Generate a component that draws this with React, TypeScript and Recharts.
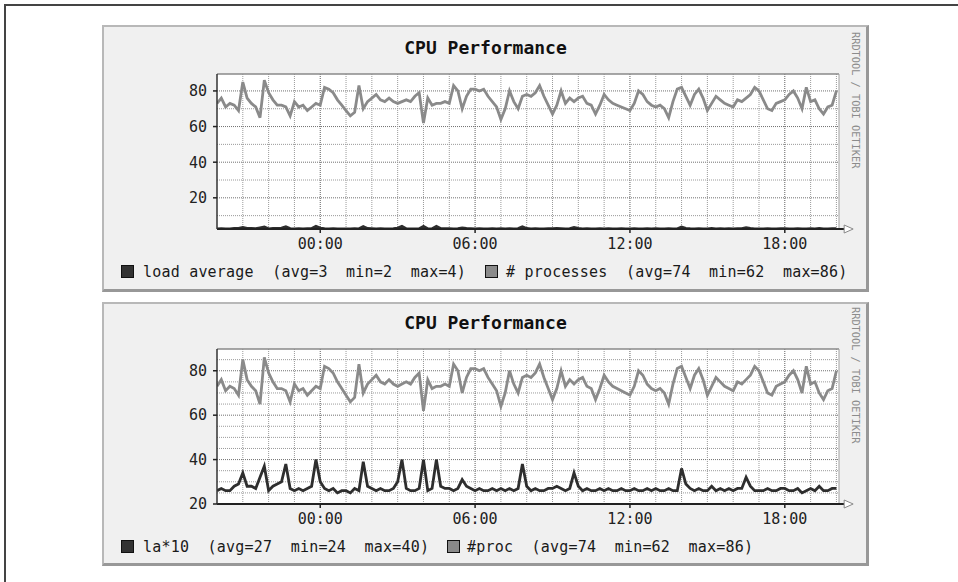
import React from 'react';
import { LineChart, Line, XAxis, YAxis, CartesianGrid, ReferenceLine, ReferenceDot } from 'recharts';

// ---- data -------------------------------------------------------------
const START_HOUR = -4; // 20:00 of the previous day
const STEP_HOURS = 1 / 6; // 10-minute samples

const hourTicks = [0, 6, 12, 18];
const hourTickLabels = ['00:00', '06:00', '12:00', '18:00'];
const minorHours = [-3, -2, -1, 1, 2, 3, 4, 5, 7, 8, 9, 10, 11, 13, 14, 15, 16, 17, 19, 20];

// number of processes (same data in both graphs)
const processes = [
  73, 76, 71, 73, 72, 69,
  85, 76, 73, 71, 65, 86,
  79, 75, 72, 72, 71, 66,
  74, 71, 72, 69, 71, 73,
  72, 82, 81, 79, 75, 72,
  69, 66, 68, 83, 70, 74,
  76, 78, 75, 74, 76, 74,
  73, 74, 75, 74, 77, 79,
  62, 76, 72, 73, 73, 74,
  73, 83, 80, 70, 77, 81,
  81, 80, 81, 77, 74, 71,
  64, 70, 80, 74, 70, 77,
  78, 77, 79, 83, 77, 72,
  67, 72, 80, 73, 76, 74,
  76, 77, 73, 72, 67, 72,
  78, 75, 73, 72, 71, 70,
  69, 73, 80, 78, 74, 72,
  71, 72, 70, 65, 74, 81,
  82, 77, 72, 78, 81, 76,
  69, 73, 77, 75, 73, 72,
  71, 75, 74, 76, 78, 82,
  80, 75, 70, 69, 73, 74,
  75, 78, 80, 76, 70, 82,
  74, 75, 70, 67, 71, 72,
  80,
];

// load average x 10
const loadX10 = [
  26, 27, 26, 26, 28, 29,
  34, 28, 28, 27, 32, 37,
  26, 28, 29, 30, 38, 27,
  26, 27, 26, 27, 28, 40,
  30, 27, 26, 27, 25, 26,
  26, 25, 27, 26, 39, 28,
  27, 26, 27, 26, 26, 27,
  30, 40, 27, 26, 26, 27,
  40, 26, 27, 40, 28, 27,
  27, 26, 27, 31, 28, 27,
  26, 27, 26, 26, 27, 26,
  27, 26, 27, 26, 27, 38,
  28, 26, 27, 26, 26, 27,
  27, 28, 27, 26, 27, 34,
  28, 26, 27, 26, 26, 27,
  26, 27, 26, 26, 27, 26,
  26, 27, 26, 26, 27, 26,
  27, 26, 26, 27, 26, 26,
  36, 29, 27, 26, 27, 26,
  26, 28, 26, 27, 26, 27,
  26, 27, 27, 32, 28, 26,
  26, 26, 27, 26, 26, 27,
  27, 26, 26, 27, 25, 26,
  27, 26, 28, 26, 26, 27,
  27,
];

const topYTicks = [20, 40, 60, 80];
const topYMinor = [10, 30, 50, 70];
const bottomYTicks = [20, 40, 60, 80];
const bottomYMinor = [25, 30, 35, 45, 50, 55, 65, 70, 75, 85];

const chartTitle = 'CPU Performance';
const credit = 'RRDTOOL / TOBI OETIKER';

const topLegend = [
  { label: 'load average  (avg=3  min=2  max=4)', color: '#333333' },
  { label: '# processes  (avg=74  min=62  max=86)', color: '#8a8a8a' },
];
const bottomLegend = [
  { label: 'la*10  (avg=27  min=24  max=40)', color: '#333333' },
  { label: '#proc  (avg=74  min=62  max=86)', color: '#8a8a8a' },
];

const rows = processes.map((p, i) => ({
  t: START_HOUR + i * STEP_HOURS,
  proc: p,
  la10: loadX10[i],
  la: loadX10[i] / 10,
}));

// ---- styling ---------------------------------------------------------
const MONO = '"DejaVu Sans Mono", "Liberation Mono", monospace';
const X_DOMAIN: [number, number] = [-4, 20.1];
const PANEL_LEFT = 102;
const PANEL_WIDTH = 767;

const Arrow = (props: any) => {
  const { cx, cy } = props;
  if (cx == null || cy == null) return null;
  return (
    <g>
      <line x1={cx - 8} y1={cy} x2={cx} y2={cy} stroke="#222" strokeWidth={2} />
      <polygon points={`${cx},${cy - 4} ${cx + 9},${cy} ${cx},${cy + 4}`} fill="#fff" stroke="#888" strokeWidth={1} />
    </g>
  );
};

type PanelProps = {
  top: number;
  height: number;
  plotTop: number;
  plotHeight: number;
  titleY: number;
  legendY: number;
  creditY: number;
  yDomain: [number, number];
  yTicks: number[];
  yMinor: number[];
  series: { key: string; color: string }[];
  legend: { label: string; color: string }[];
  legendX: number[];
};

function Panel(p: PanelProps) {
  const xAxisHeight = p.height - p.plotTop - p.plotHeight;
  return (
    <>
      <div
        style={{
          position: 'absolute',
          left: PANEL_LEFT,
          top: p.top,
          width: PANEL_WIDTH,
          height: p.height,
          boxSizing: 'border-box',
          background: '#f0f0f0',
          borderTop: '2px solid #b8b8b8',
          borderLeft: '2px solid #b8b8b8',
          borderRight: '3px solid #989898',
          borderBottom: '3px solid #989898',
        }}
      />
      <div style={{ position: 'absolute', left: PANEL_LEFT, top: p.top }}>
        <LineChart
          width={PANEL_WIDTH}
          height={p.height}
          data={rows}
          margin={{ top: p.plotTop, right: 30, bottom: 0, left: 0 }}
        >
          <CartesianGrid fill="#ffffff" stroke="none" horizontal={false} vertical={false} />
          <XAxis
            type="number"
            dataKey="t"
            domain={X_DOMAIN}
            allowDataOverflow
            ticks={hourTicks}
            interval={0}
            tickFormatter={(v: number) => hourTickLabels[hourTicks.indexOf(v)] ?? ''}
            height={xAxisHeight}
            tickSize={4}
            tickMargin={5}
            axisLine={{ stroke: '#222', strokeWidth: 2 }}
            tickLine={{ stroke: '#222', strokeWidth: 1.5 }}
            tick={{ fill: '#222', fontSize: 15, fontFamily: MONO }}
          />
          <YAxis
            type="number"
            domain={p.yDomain}
            allowDataOverflow
            ticks={p.yTicks}
            interval={0}
            width={115}
            tickSize={4}
            tickMargin={6}
            axisLine={{ stroke: '#333', strokeWidth: 1.5 }}
            tickLine={{ stroke: '#222', strokeWidth: 1.5 }}
            tick={{ fill: '#222', fontSize: 15, fontFamily: MONO }}
          />
          {p.yMinor.map((v) => (
            <ReferenceLine key={'ym' + v} y={v} stroke="#9a9a9a" strokeDasharray="1 1" />
          ))}
          {p.yTicks.map((v) => (
            <ReferenceLine key={'yM' + v} y={v} stroke="#707070" strokeDasharray="1 1" />
          ))}
          {minorHours.map((h) => (
            <ReferenceLine key={'xm' + h} x={h} stroke="#9a9a9a" strokeDasharray="1 1" />
          ))}
          {hourTicks.map((h) => (
            <ReferenceLine key={'xM' + h} x={h} stroke="#606060" strokeDasharray="1 1" />
          ))}
          <ReferenceLine y={p.yDomain[1]} stroke="#8a8a8a" strokeWidth={1.5} />
          <ReferenceLine x={X_DOMAIN[1]} stroke="#a0a0a0" />
          {p.series.map((s) => (
            <Line
              key={s.key}
              type="linear"
              dataKey={s.key}
              stroke={s.color}
              strokeWidth={2.8}
              dot={false}
              activeDot={false}
              isAnimationActive={false}
            />
          ))}
          <ReferenceDot x={20.3} y={p.yDomain[0]} ifOverflow="visible" shape={Arrow} />
        </LineChart>
      </div>
      <div
        style={{
          position: 'absolute',
          left: PANEL_LEFT,
          width: PANEL_WIDTH,
          top: p.top + p.titleY - 11,
          height: 22,
          lineHeight: '22px',
          textAlign: 'center',
          fontFamily: MONO,
          fontWeight: 'bold',
          fontSize: 18,
          color: '#111',
        }}
      >
        {chartTitle}
      </div>
      <div
        style={{
          position: 'absolute',
          left: PANEL_LEFT + 747,
          top: p.top + p.creditY,
          writingMode: 'vertical-rl',
          fontFamily: MONO,
          fontSize: 10.3,
          color: '#8c8c8c',
          whiteSpace: 'pre',
          lineHeight: '14px',
        }}
      >
        {credit}
      </div>
      {p.legend.map((item, i) => (
        <React.Fragment key={item.label}>
          <div
            style={{
              position: 'absolute',
              left: PANEL_LEFT + p.legendX[i * 2],
              top: p.top + p.legendY - 7,
              width: 13,
              height: 13,
              boxSizing: 'border-box',
              background: item.color,
              border: '1px solid #111',
            }}
          />
          <div
            style={{
              position: 'absolute',
              left: PANEL_LEFT + p.legendX[i * 2 + 1],
              top: p.top + p.legendY - 9,
              height: 18,
              lineHeight: '18px',
              fontFamily: MONO,
              fontSize: 15,
              letterSpacing: 0.2,
              whiteSpace: 'pre',
              color: '#1a1a1a',
            }}
          >
            {item.label}
          </div>
        </React.Fragment>
      ))}
    </>
  );
}

export default function App() {
  return (
    <div
      style={{
        position: 'absolute',
        left: 0,
        top: 0,
        width: 958,
        height: 582,
        background: '#ffffff',
        overflow: 'hidden',
      }}
    >
      <div
        style={{
          position: 'absolute',
          left: 4,
          top: 4,
          width: 1000,
          height: 700,
          borderLeft: '2px solid #444',
          borderTop: '2px solid #444',
        }}
      />
      <Panel
        top={25}
        height={267}
        plotTop={49}
        plotHeight={155}
        titleY={23}
        legendY={247}
        creditY={7}
        yDomain={[2.5, 89.5]}
        yTicks={topYTicks}
        yMinor={topYMinor}
        series={[
          { key: 'la', color: '#2e2e2e' },
          { key: 'proc', color: '#8a8a8a' },
        ]}
        legend={topLegend}
        legendX={[19, 41, 383, 404]}
      />
      <Panel
        top={302}
        height={264}
        plotTop={47}
        plotHeight={155}
        titleY={21}
        legendY={245}
        creditY={5}
        yDomain={[20, 89.8]}
        yTicks={bottomYTicks}
        yMinor={bottomYMinor}
        series={[
          { key: 'la10', color: '#2e2e2e' },
          { key: 'proc', color: '#8a8a8a' },
        ]}
        legend={bottomLegend}
        legendX={[19, 41, 345, 365]}
      />
    </div>
  );
}
